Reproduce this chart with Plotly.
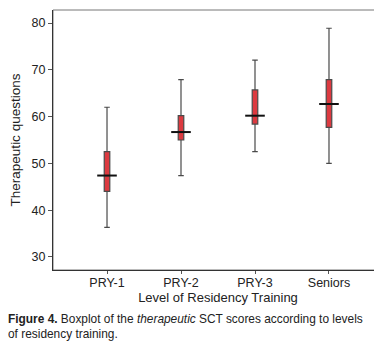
import plotly.graph_objects as go

categories = ["PRY-1", "PRY-2", "PRY-3", "Seniors"]
lower_whisker = [36.3, 47.4, 52.5, 50.0]
q1 = [44.0, 55.0, 58.4, 57.7]
median = [47.4, 56.7, 60.2, 62.7]
q3 = [52.5, 60.2, 65.7, 67.9]
upper_whisker = [62.0, 67.9, 72.1, 78.9]
y_ticks = [30, 40, 50, 60, 70, 80]

W, H = 382, 348
L, R, T, B = 45, 7, 2, 86

fig = go.Figure()
fig.add_trace(go.Box(
    x=categories, q1=q1, median=median, q3=q3,
    lowerfence=lower_whisker, upperfence=upper_whisker,
    width=0.075, whiskerwidth=1.0,
    fillcolor="#dc3a40", line=dict(color="#4a4a4a", width=1.2),
    boxpoints=False, showlegend=False, hoverinfo="skip",
))
fig.add_trace(go.Scatter(
    x=categories, y=median, mode="markers",
    marker=dict(symbol="line-ew", size=14, line=dict(color="#111111", width=2)),
    showlegend=False, hoverinfo="skip",
))

font = "Liberation Sans, Arial, sans-serif"
fig.update_layout(
    width=W, height=H,
    margin=dict(l=L, r=R, t=T, b=B),
    paper_bgcolor="white", plot_bgcolor="white",
    font=dict(family=font, size=12.5, color="#222222"),
    title=dict(
        text="<b>Figure 4.</b> Boxplot of the <i>therapeutic</i> SCT scores according to levels<br>of residency training.",
        xref="container", yref="container",
        x=0, xanchor="left", y=1 - 315 / H, yanchor="top",
        pad=dict(l=0, r=0, t=0, b=0),
        font=dict(family=font, size=11.9, color="#222222"),
    ),
    xaxis=dict(
        range=[-0.73, 3.73], showgrid=False, zeroline=False,
        showline=True, linecolor="#333333", linewidth=1,
        ticks="outside", ticklen=3, tickcolor="#555555",
        ticklabelstandoff=-2,
        title=dict(text="Level of Residency Training", font=dict(size=13), standoff=2),
        tickfont=dict(size=12.5),
    ),
    yaxis=dict(
        range=[27.2, 82.8], tickvals=y_ticks, showgrid=False, zeroline=False,
        showline=True, linecolor="#333333", linewidth=1,
        ticks="outside", ticklen=4, tickcolor="#555555",
        title=dict(text="Therapeutic questions", font=dict(size=13.5), standoff=10),
        tickfont=dict(size=12.5),
    ),
    shapes=[dict(type="rect", xref="paper", yref="paper", x0=0, x1=1, y0=0, y1=1,
                 line=dict(color="#777777", width=1), layer="below")],
)

fig.write_html("out.html")
